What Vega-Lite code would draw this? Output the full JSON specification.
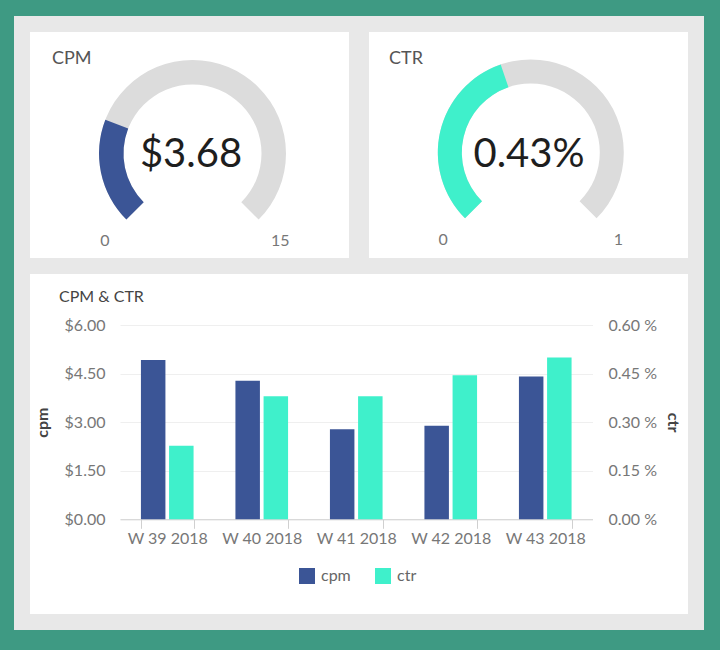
{
  "$schema": "https://vega.github.io/schema/vega-lite/v6.json",
  "background": "#3e9a83",
  "padding": {"left": 14, "top": 6, "right": 16, "bottom": 20},
  "config": {
    "font": "Lato",
    "view": {"fill": "white", "stroke": "#e8e8e8", "strokeWidth": 16, "cornerRadius": 0}
  },
  "bounds": "flush",
  "spacing": 0,
  "vconcat": [
    {
      "width": 674,
      "height": 242,
      "view": {"fill": "white", "stroke": "#e8e8e8", "strokeWidth": 16, "cornerRadius": 0},
      "data": {
        "values": [
          {"metric": "CPM", "min": 0, "max": 15, "value": 3.68, "display": "$3.68"},
          {"metric": "CTR", "min": 0, "max": 1, "value": 0.43, "display": "0.43%"}
        ]
      },
      "layer": [
        {
          "mark": {"type": "rule", "color": "#e8e8e8", "strokeWidth": 20},
          "encoding": {
            "x": {"datum": "CTR", "type": "nominal", "bandPosition": 0, "scale": {"type": "band", "domain": ["CPM", "CTR"], "paddingInner": 0, "paddingOuter": 0}, "axis": null}
          }
        },
        {
          "transform": [{"filter": "datum.metric === 'CPM'"}],
          "layer": [
            {
              "mark": {"type": "arc", "innerRadius": 69, "outerRadius": 93.5, "color": "#dcdcdc", "xOffset": 2, "yOffset": 8.5},
              "encoding": {
                "x": {"field": "metric", "type": "nominal", "bandPosition": 0.5, "axis": null},
                "theta": {"field": "min", "type": "quantitative", "scale": {"domain": [0, 15], "range": [-2.35619, 2.35619]}},
                "theta2": {"field": "max"}
              }
            },
            {
              "mark": {"type": "arc", "innerRadius": 69, "outerRadius": 93.5, "color": "#3b5596", "xOffset": 2, "yOffset": 8.5},
              "encoding": {
                "x": {"field": "metric", "type": "nominal", "bandPosition": 0.5, "axis": null},
                "theta": {"field": "min", "type": "quantitative", "scale": {"domain": [0, 15], "range": [-2.35619, 2.35619]}},
                "theta2": {"field": "value"}
              }
            },
            {
              "mark": {"type": "text", "fontSize": 40, "color": "#1e1e1e", "align": "center", "baseline": "middle", "xOffset": 0.5, "yOffset": 10},
              "encoding": {
                "x": {"field": "metric", "type": "nominal", "bandPosition": 0.5, "axis": null},
                "text": {"field": "display"}
              }
            },
            {
              "mark": {"type": "text", "fontSize": 18, "color": "#555", "align": "left", "baseline": "top", "xOffset": 30, "yOffset": -94.6},
              "encoding": {
                "x": {"field": "metric", "type": "nominal", "bandPosition": 0, "axis": null},
                "text": {"field": "metric"}
              }
            },
            {
              "mark": {"type": "text", "fontSize": 16, "color": "#777", "align": "center", "baseline": "middle", "xOffset": 2, "yOffset": 8.5},
              "encoding": {
                "x": {"field": "metric", "type": "nominal", "bandPosition": 0.5, "axis": null},
                "theta": {"field": "min", "type": "quantitative", "stack": null, "scale": {"domain": [0, 15], "range": [-2.35619, 2.35619]}},
                "radius": {"value": 124},
                "text": {"field": "min"}
              }
            },
            {
              "mark": {"type": "text", "fontSize": 16, "color": "#777", "align": "center", "baseline": "middle", "xOffset": 2, "yOffset": 8.5},
              "encoding": {
                "x": {"field": "metric", "type": "nominal", "bandPosition": 0.5, "axis": null},
                "theta": {"field": "max", "type": "quantitative", "stack": null, "scale": {"domain": [0, 15], "range": [-2.35619, 2.35619]}},
                "radius": {"value": 124},
                "text": {"field": "max"}
              }
            }
          ]
        },
        {
          "transform": [{"filter": "datum.metric === 'CTR'"}],
          "layer": [
            {
              "mark": {"type": "arc", "innerRadius": 69, "outerRadius": 93, "color": "#dcdcdc", "xOffset": 3.3, "yOffset": 7.5},
              "encoding": {
                "x": {"field": "metric", "type": "nominal", "bandPosition": 0.5, "axis": null},
                "theta": {"field": "min", "type": "quantitative", "scale": {"domain": [0, 1], "range": [-2.35619, 2.35619]}},
                "theta2": {"field": "max"}
              }
            },
            {
              "mark": {"type": "arc", "innerRadius": 69, "outerRadius": 93, "color": "#3ff0cb", "xOffset": 3.3, "yOffset": 7.5},
              "encoding": {
                "x": {"field": "metric", "type": "nominal", "bandPosition": 0.5, "axis": null},
                "theta": {"field": "min", "type": "quantitative", "scale": {"domain": [0, 1], "range": [-2.35619, 2.35619]}},
                "theta2": {"field": "value"}
              }
            },
            {
              "mark": {"type": "text", "fontSize": 40, "color": "#1e1e1e", "align": "center", "baseline": "middle", "xOffset": 1.5, "yOffset": 10},
              "encoding": {
                "x": {"field": "metric", "type": "nominal", "bandPosition": 0.5, "axis": null},
                "text": {"field": "display"}
              }
            },
            {
              "mark": {"type": "text", "fontSize": 18, "color": "#555", "align": "left", "baseline": "top", "xOffset": 30, "yOffset": -94.6},
              "encoding": {
                "x": {"field": "metric", "type": "nominal", "bandPosition": 0, "axis": null},
                "text": {"field": "metric"}
              }
            },
            {
              "mark": {"type": "text", "fontSize": 16, "color": "#777", "align": "center", "baseline": "middle", "xOffset": 3.3, "yOffset": 7.5},
              "encoding": {
                "x": {"field": "metric", "type": "nominal", "bandPosition": 0.5, "axis": null},
                "theta": {"field": "min", "type": "quantitative", "stack": null, "scale": {"domain": [0, 1], "range": [-2.35619, 2.35619]}},
                "radius": {"value": 124},
                "text": {"field": "min"}
              }
            },
            {
              "mark": {"type": "text", "fontSize": 16, "color": "#777", "align": "center", "baseline": "middle", "xOffset": 3.3, "yOffset": 7.5},
              "encoding": {
                "x": {"field": "metric", "type": "nominal", "bandPosition": 0.5, "axis": null},
                "theta": {"field": "max", "type": "quantitative", "stack": null, "scale": {"domain": [0, 1], "range": [-2.35619, 2.35619]}},
                "radius": {"value": 124},
                "text": {"field": "max"}
              }
            }
          ]
        }
      ],
      "resolve": {"scale": {"theta": "independent"}}
    },
    {
      "width": 674,
      "height": 356,
      "title": {"text": "CPM & CTR", "fontSize": 16, "dx": 37, "offset": -39, "color": "#444", "anchor": "start", "frame": "group", "fontWeight": "normal"},
      "data": {
        "values": [
          {"week": "W 39 2018", "metric": "cpm", "value": 4.92},
          {"week": "W 39 2018", "metric": "ctr", "value": 0.227},
          {"week": "W 40 2018", "metric": "cpm", "value": 4.28},
          {"week": "W 40 2018", "metric": "ctr", "value": 0.38},
          {"week": "W 41 2018", "metric": "cpm", "value": 2.78},
          {"week": "W 41 2018", "metric": "ctr", "value": 0.38},
          {"week": "W 42 2018", "metric": "cpm", "value": 2.89},
          {"week": "W 42 2018", "metric": "ctr", "value": 0.445},
          {"week": "W 43 2018", "metric": "cpm", "value": 4.41},
          {"week": "W 43 2018", "metric": "ctr", "value": 0.5}
        ]
      },
      "encoding": {
        "x": {
          "field": "week",
          "type": "nominal",
          "scale": {"range": [98, 570.5], "paddingInner": 0.443, "paddingOuter": 0.2215},
          "axis": {
            "title": null,
            "labelAngle": 0,
            "offset": -102.7,
            "tickBand": "extent",
            "domainColor": "#d0d0d0",
            "tickColor": "#d0d0d0",
            "tickSize": 9,
            "labelPadding": 2,
            "grid": false,
            "labelFontSize": 16,
            "labelColor": "#777"
          }
        },
        "xOffset": {"field": "metric", "type": "nominal", "scale": {"domain": ["cpm", "ctr"], "paddingInner": 0.13, "paddingOuter": 0}},
        "color": {
          "field": "metric",
          "type": "nominal",
          "scale": {"domain": ["cpm", "ctr"], "range": ["#3b5596", "#3ff0cb"]},
          "legend": {
            "orient": "none",
            "legendX": 277,
            "legendY": 544,
            "direction": "horizontal",
            "title": null,
            "symbolType": "square",
            "symbolSize": 256,
            "symbolStrokeWidth": 0,
            "labelFontSize": 16,
            "labelColor": "#666",
            "labelOffset": 6,
            "columnPadding": 24,
            "padding": 0
          }
        }
      },
      "layer": [
        {
          "transform": [{"filter": "datum.metric === 'cpm'"}],
          "mark": "bar",
          "encoding": {
            "y": {
              "field": "value",
              "type": "quantitative",
              "scale": {"domain": [0, 6], "range": [253.3, 59]},
              "axis": {
                "orient": "left",
                "title": "cpm",
                "values": [0, 1.5, 3, 4.5, 6],
                "format": "$.2f",
                "offset": -98,
                "labelPadding": 15,
                "domain": false,
                "ticks": false,
                "grid": true,
                "gridColor": "#efefef",
                "labelFontSize": 16,
                "labelColor": "#777",
                "titleFontSize": 16,
                "titleColor": "#444",
                "titleFontWeight": "bold",
                "titlePadding": 14
              }
            }
          }
        },
        {
          "transform": [{"filter": "datum.metric === 'ctr'"}],
          "mark": "bar",
          "encoding": {
            "y": {
              "field": "value",
              "type": "quantitative",
              "scale": {"domain": [0, 0.6], "range": [253.3, 59]},
              "axis": {
                "orient": "right",
                "title": "ctr",
                "values": [0, 0.15, 0.3, 0.45, 0.6],
                "labelExpr": "format(datum.value, '.2f') + ' %'",
                "offset": -103.5,
                "labelPadding": 15.5,
                "domain": false,
                "ticks": false,
                "grid": false,
                "labelFontSize": 16,
                "labelColor": "#777",
                "titleFontSize": 16,
                "titleColor": "#444",
                "titleFontWeight": "bold",
                "titlePadding": 8
              }
            }
          }
        }
      ],
      "resolve": {"scale": {"y": "independent"}}
    }
  ]
}
